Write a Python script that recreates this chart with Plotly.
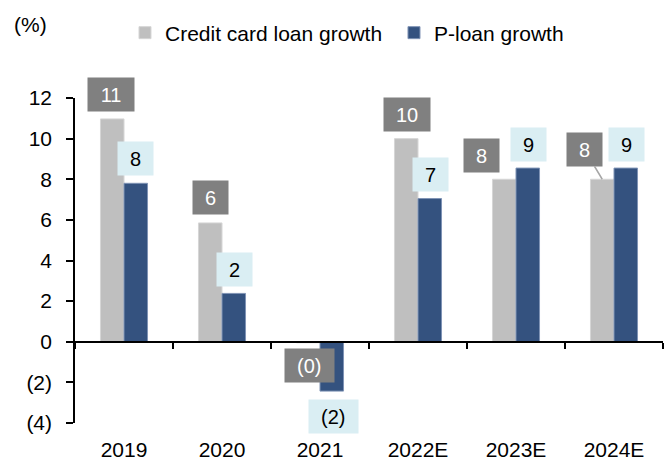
import plotly.graph_objects as go

# ---- data ----
categories = ["2019", "2020", "2021", "2022E", "2023E", "2024E"]
credit_card_growth = [10.97, 5.85, -0.05, 10.0, 8.0, 8.0]
ploan_growth = [7.8, 2.38, -2.43, 7.05, 8.55, 8.55]
y_tick_values = [-4, -2, 0, 2, 4, 6, 8, 10, 12]
y_tick_labels = ["(4)", "(2)", "0", "2", "4", "6", "8", "10", "12"]

# ---- label placement (pixels, relative to category centre / bar end) ----
cc_dx = [-13, -12, -10.5, -11.5, -35, -18]
cc_dy = [24, 25, -23, 24, 24, 30]
cc_leader = [False, False, False, False, False, True]
pl_dx = [11.5, 12.5, 13.5, 12.5, 12.5, 12.5]
pl_dy = [25, 24, -25, 24, 23.5, 23.5]

FONT = "Liberation Sans, Arial, sans-serif"
GRAY = "#BFBFBF"
BLUE = "#34527F"
LBL_DARK = "#808080"
LBL_LIGHT = "#DAEEF3"


def fmt(v):
    r = int(abs(v) + 0.5)
    return f"({r})" if v < 0 else str(r)


def box_width(s):
    digits = sum(c.isdigit() for c in s)
    parens = sum(c in "()" for c in s)
    return 24 + 11.1 * digits + 6.7 * parens


fig = go.Figure()
fig.add_trace(go.Bar(
    x=categories, y=credit_card_growth, name="Credit card loan growth",
    marker=dict(color=GRAY, line=dict(color="#D6D6D6", width=1)),
))
fig.add_trace(go.Bar(
    x=categories, y=ploan_growth, name="P-loan growth",
    marker=dict(color=BLUE, line=dict(color="#7F93B5", width=1)),
))
# invisible helper trace to carry the zero-line axis with boundary ticks
fig.add_trace(go.Scatter(
    x=categories, y=[None] * len(categories), xaxis="x2", yaxis="y",
    showlegend=False, hoverinfo="skip", mode="markers",
))

annotations = []
for i, cat in enumerate(categories):
    v = credit_card_growth[i]
    t = fmt(v)
    if cc_leader[i]:
        annotations.append(dict(
            x=i, y=v, xref="x", yref="y", text=t, showarrow=True,
            xshift=-11.75, ax=cc_dx[i], ay=-cc_dy[i],
            arrowhead=0, arrowwidth=1.5, arrowcolor="#A6A6A6", standoff=0,
            startstandoff=0, bgcolor=LBL_DARK, width=box_width(t), height=33,
            borderpad=0, font=dict(family=FONT, size=20, color="white"),
        ))
    else:
        annotations.append(dict(
            x=i, y=v, xref="x", yref="y", text=t, showarrow=False,
            xshift=cc_dx[i], yshift=cc_dy[i], xanchor="center", yanchor="middle",
            bgcolor=LBL_DARK, width=box_width(t), height=33, borderpad=0,
            font=dict(family=FONT, size=20, color="white"),
        ))
    v = ploan_growth[i]
    t = fmt(v)
    annotations.append(dict(
        x=i, y=v, xref="x", yref="y", text=t, showarrow=False,
        xshift=pl_dx[i], yshift=pl_dy[i], xanchor="center", yanchor="middle",
        bgcolor=LBL_LIGHT, width=box_width(t), height=33, borderpad=0,
        font=dict(family=FONT, size=20, color="black"),
    ))

annotations.append(dict(
    x=0, y=1, xref="paper", yref="paper", xshift=-63, yshift=74,
    text="(%)", showarrow=False, xanchor="left", yanchor="middle",
    font=dict(family=FONT, size=21, color="black"),
))

fig.update_layout(
    width=672, height=461,
    margin=dict(l=75, r=9, t=98, b=37.5, pad=0, autoexpand=False),
    paper_bgcolor="white", plot_bgcolor="white",
    barmode="group", bargap=0.52, bargroupgap=0,
    font=dict(family=FONT, size=21, color="black"),
    showlegend=True,
    legend=dict(
        orientation="h", x=0.5425, xanchor="center", y=1.20, yanchor="middle",
        font=dict(family=FONT, size=21, color="black"),
        itemwidth=30, tracegroupgap=0, bgcolor="rgba(0,0,0,0)",
        entrywidth=224, entrywidthmode="pixels",
    ),
    xaxis=dict(
        type="category", categoryorder="array", categoryarray=categories,
        range=[-0.5, 5.5], showline=False, ticks="", showgrid=False,
        zeroline=False, ticklabelstandoff=12, automargin=False,
        tickfont=dict(family=FONT, size=21, color="black"),
    ),
    xaxis2=dict(
        type="category", categoryorder="array", categoryarray=categories,
        range=[-0.5, 5.5], overlaying="x", anchor="free", position=0.25,
        side="bottom", showline=True, linecolor="black", linewidth=1.5,
        ticks="outside", tickson="boundaries", ticklen=6, tickwidth=1.5,
        tickcolor="black", showticklabels=False, showgrid=False,
        automargin=False,
    ),
    yaxis=dict(
        range=[-4, 12], tickvals=y_tick_values, ticktext=y_tick_labels,
        showline=True, linecolor="black", linewidth=1.5,
        ticks="outside", ticklen=7, tickwidth=1.5, tickcolor="black",
        showgrid=False, zeroline=False, ticklabelstandoff=10, automargin=False,
        tickfont=dict(family=FONT, size=21, color="black"),
    ),
    annotations=annotations,
)

fig.write_html(
    "out.html",
    config={"displayModeBar": False},
    post_script="document.body.style.margin='0';document.body.style.overflow='hidden';",
)
